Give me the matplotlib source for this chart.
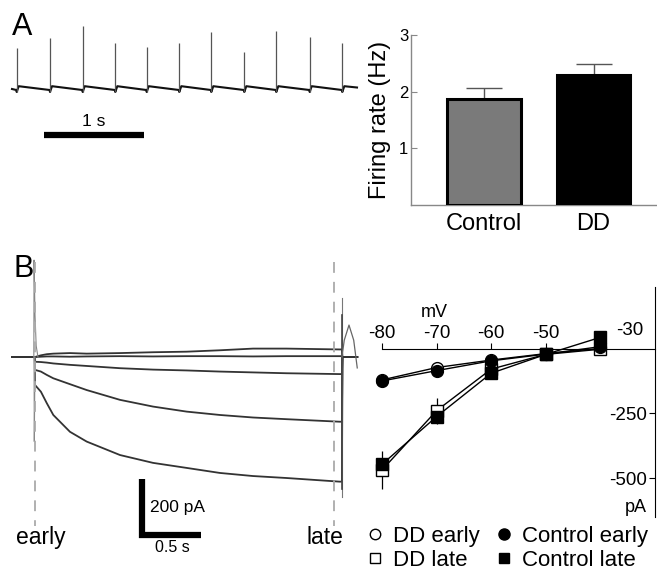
import numpy as np
import matplotlib
matplotlib.use('Agg')
import matplotlib.pyplot as plt
from matplotlib.lines import Line2D

plt.rcParams['font.family'] = ['Liberation Sans', 'DejaVu Sans']
plt.rcParams['axes.unicode_minus'] = True

# ---- panel A: spike train (time in s, amplitude in a.u.)
spike_t = [0.047, 0.38, 0.707, 1.033, 1.347, 1.673, 1.993, 2.323, 2.643, 2.977, 3.303]
spike_amp = [40, 50, 62, 45, 41, 45, 56, 36, 57, 51, 45]
trace_end = 3.45

# ---- panel A: firing rate
groups = ['Control', 'DD']
rate = [1.87, 2.29]
rate_sem = [0.20, 0.20]

# ---- panel B: current traces (time in s, current in pA)
step_t = [0.0, 0.05, 0.1, 0.155, 0.296, 0.438, 0.72, 1.0, 1.285, 1.567, 1.847, 2.13, 2.58, 2.60]
sweeps = [
    [0, 6, 10, 12, 14, 12, 14, 17, 19, 24, 30, 30, 27, 27],
    [0, 1, 2, 2, 1, 2, 3, 2, 3, 3, 2, 3, 3, 3],
    [-17, -18, -20, -23, -28, -32, -40, -45, -48, -52, -55, -58, -61, -61],
    [-46, -52, -64, -76, -97, -118, -153, -177, -195, -207, -216, -222, -231, -231],
    [-100, -124, -165, -207, -267, -302, -350, -378, -396, -414, -425, -432, -445, -445],
]
hold_start = -0.195
tail_t = [2.60, 2.62, 2.66, 2.70, 2.73]
tail_i = [0, 60, 114, 60, -39]

# ---- panel B: I-V relation
volt = [-80, -70, -60, -50, -40]
ctrl_early = [-124, -84, -46, -20, 9]
dd_early = [-120, -72, -43, -18, 2]
ctrl_late = [-447, -262, -94, -21, 45]
dd_late = [-469, -239, -78, -21, -1]
sem_early = [12, 10, 8, 5, 5]
sem_late = [74, 50, 15, 6, 8]

W, H = 657, 578


def box(x0, y0, x1, y1):
    return [x0 / W, 1 - y1 / H, (x1 - x0) / W, (y1 - y0) / H]


fig = plt.figure(figsize=(W / 100, H / 100), dpi=100)

# ---------------- A: trace
ax = fig.add_axes(box(0, 0, 370, 150))
ax.set_xlim(-0.12, 3.58)
ax.set_ylim(-62, 88)
ax.axis('off')
pts = [(0.0, -1.0)]
for t in spike_t:
    pts += [(t - 0.004, -2.0), (t, -4.0), (t + 0.02, 1.8)]
pts.append((trace_end, 0.5))
ax.plot([p[0] for p in pts], [p[1] for p in pts], color='#111', lw=1.5)
ax.vlines(spike_t, -4.0, spike_amp, color='#555', lw=0.9)
ax.plot([0.32, 1.32], [-47, -47], color='black', lw=4.5, solid_capstyle='butt')
ax.text(0.82, -33, '1 s', ha='center', va='center', fontsize=12.5)
fig.text(12 / W, 1 - 27 / H, 'A', fontsize=22, va='center', ha='left')

# ---------------- A: bar chart
ax = fig.add_axes(box(411, 35, 657, 205))
x = np.arange(len(groups))
ax.bar(x, rate, width=0.675, color=['#7a7a7a', 'black'], edgecolor='black',
       linewidth=2.2, zorder=3)
ax.errorbar(x, rate, yerr=[[0, 0], rate_sem], fmt='none', ecolor='#555',
            elinewidth=1, capsize=13, capthick=1, zorder=2)
ax.set_xlim(-0.667, 1.58)
ax.set_ylim(0, 3)
ax.set_yticks([1, 2, 3])
ax.set_xticks(x)
ax.set_xticklabels(groups, fontsize=17)
ax.tick_params(axis='x', length=0, pad=6)
ax.tick_params(axis='y', direction='in', length=4, pad=2, labelsize=12,
               color='#888')
for s in ['top', 'right']:
    ax.spines[s].set_visible(False)
for s in ['left', 'bottom']:
    ax.spines[s].set_color('#888')
    ax.spines[s].set_linewidth(1)
ax.set_ylabel('Firing rate (Hz)', fontsize=17, labelpad=6)

# ---------------- B: current traces
ax = fig.add_axes(box(0, 250, 370, 578))
ax.set_xlim(-0.2966, 2.838)
ax.set_ylim(-789, 382)
ax.axis('off')
for tr in sweeps:
    tt = [hold_start, -0.002] + step_t + [2.605, 2.73]
    ii = [0, 0] + tr + [0, 0]
    ax.plot(tt, ii, color='#333', lw=1.3)
ax.plot([-0.01, -0.008, 0.0, 0.01, 0.025], [0, 346, 150, 40, 0], color='#888', lw=0.8)
ax.plot([-0.008, -0.006, 0.0], [0, -302, 0], color='#888', lw=0.8)
ax.plot([2.60, 2.60], [-500, 210], color='#777', lw=0.8)
ax.plot([2.605, 2.605], [-470, 150], color='#444', lw=1.2)
ax.plot(tail_t, tail_i, color='#666', lw=0.9)
for t in [0.0, 2.53]:
    ax.plot([t, t], [340, -605], color='#aaa', lw=1.3, dashes=(6, 5))
ax.plot([0.906, 0.906, 1.406], [-435, -635, -635], color='black', lw=4.5,
        solid_joinstyle='miter', solid_capstyle='butt')
ax.text(0.974, -539, '200 pA', ha='left', va='center', fontsize=12.5)
ax.text(1.16, -680, '0.5 s', ha='center', va='center', fontsize=11.5)
ax.text(0.05, -645, 'early', ha='center', va='center', fontsize=16.5)
ax.text(2.456, -645, 'late', ha='center', va='center', fontsize=16.5)
fig.text(14 / W, 1 - 269 / H, 'B', fontsize=22, va='center', ha='left')

# ---------------- B: I-V plot
ax = fig.add_axes(box(382, 287, 655, 517))
ax.set_xlim(-80, -30)
ax.set_ylim(-651, 240)
ax.errorbar(volt, dd_early, yerr=sem_early, fmt='none', ecolor='black', elinewidth=0.9, clip_on=False)
ax.errorbar(volt, dd_late, yerr=sem_late, fmt='none', ecolor='black', elinewidth=0.9, clip_on=False)
ax.plot(volt, dd_early, color='black', lw=1, marker='o', ms=8.5, mfc='white', mec='black', clip_on=False, zorder=3)
ax.plot(volt, dd_late, color='black', lw=1, marker='s', ms=9, mfc='white', mec='black', clip_on=False, zorder=3)
ax.plot(volt, ctrl_early, color='black', lw=1, marker='o', ms=8.5, mfc='black', mec='black', clip_on=False, zorder=4)
ax.plot(volt, ctrl_late, color='black', lw=1, marker='s', ms=9, mfc='black', mec='black', clip_on=False, zorder=4)
ax.spines['bottom'].set_visible(False)
ax.spines['right'].set_visible(False)
ax.spines['top'].set_position(('data', 0))
ax.spines['left'].set_position(('data', -30))
ax.xaxis.tick_top()
ax.set_xticks([-80, -70, -60, -50])
ax.set_xticklabels(['-80', '-70', '-60', '-50'])
ax.set_yticks([-250, -500])
ax.set_yticklabels(['-250', '-500'])
ax.tick_params(axis='x', direction='out', length=4, pad=1, labelsize=13.5)
ax.tick_params(axis='y', direction='out', length=4, pad=2, labelsize=13.5)
ax.annotate('-30', xy=(-30, 0), xytext=(-18, 13), textcoords='offset points',
            ha='center', va='center', fontsize=13.5)
ax.text(-70.5, 143, 'mV', ha='center', va='center', fontsize=13)
ax.text(-31.5, -616, 'pA', ha='right', va='center', fontsize=13)

handles = [
    Line2D([], [], ls='none', marker='o', ms=7.5, mfc='white', mec='black'),
    Line2D([], [], ls='none', marker='s', ms=7.5, mfc='white', mec='black'),
    Line2D([], [], ls='none', marker='o', ms=8, mfc='black', mec='black'),
    Line2D([], [], ls='none', marker='s', ms=7.5, mfc='black', mec='black'),
]
labels = ['DD early', 'DD late', 'Control early', 'Control late']
fig.legend(handles, labels, loc='upper left', bbox_to_anchor=(366 / W, 1 - 526 / H),
           ncol=2, frameon=False, fontsize=16, handlelength=0.8,
           handletextpad=0.4, columnspacing=0.7, labelspacing=0.12,
           borderpad=0, borderaxespad=0)

fig.savefig('out.png', dpi=100)
